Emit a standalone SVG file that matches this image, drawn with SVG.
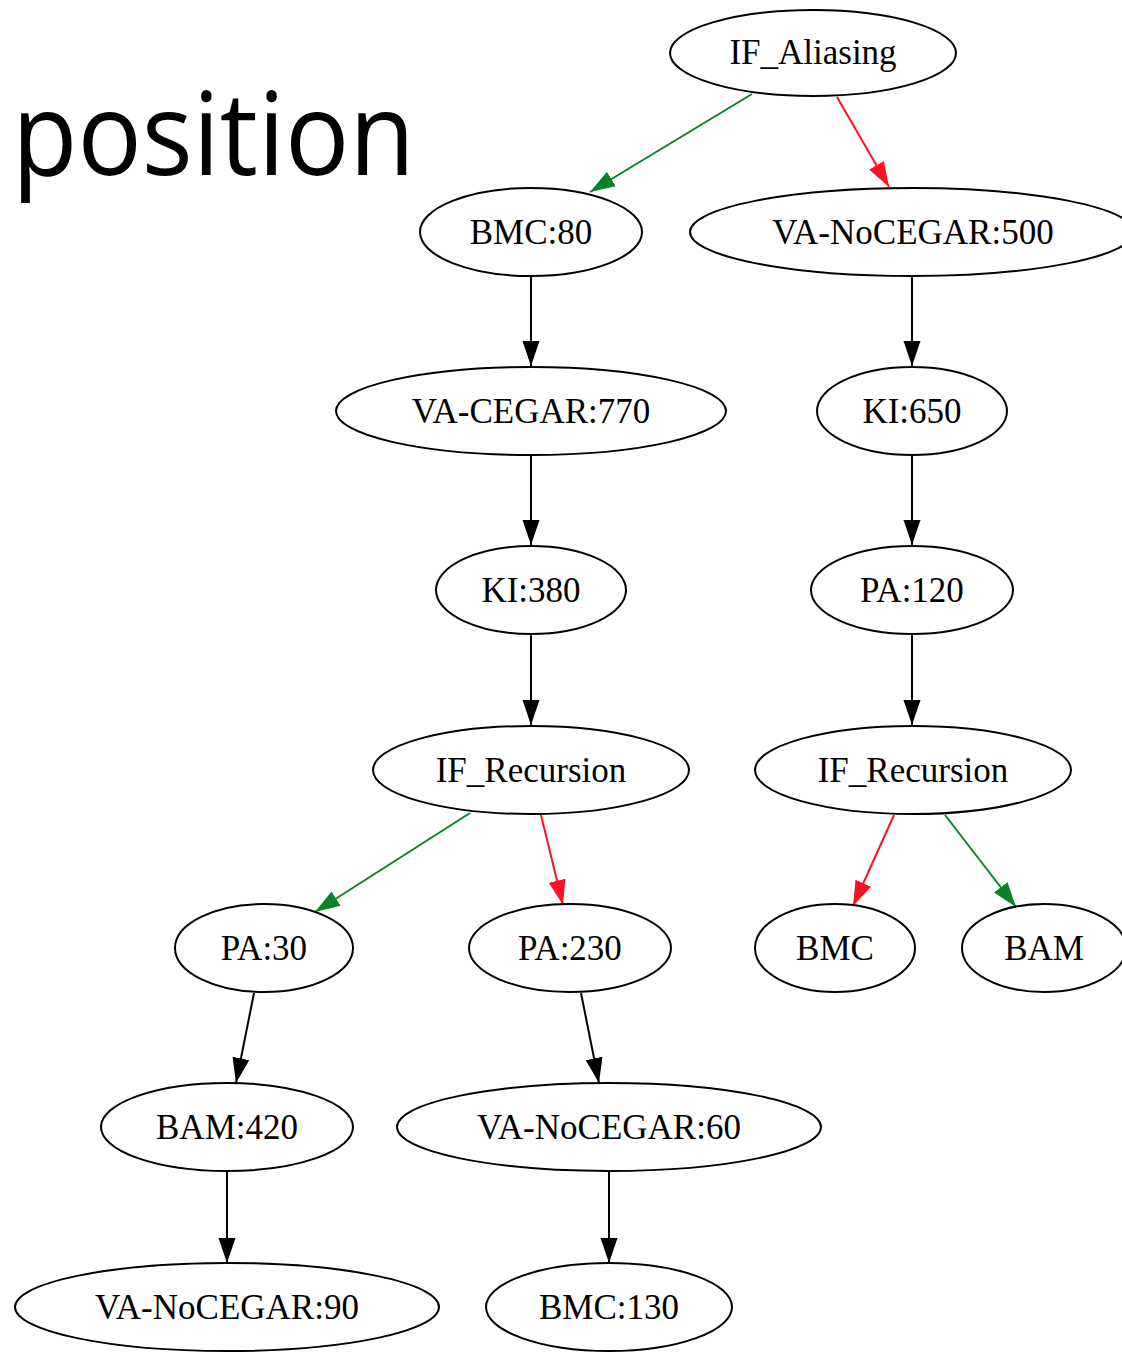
<svg xmlns="http://www.w3.org/2000/svg" width="1122" height="1353" viewBox="0 0 1122 1353">
<style>
.n ellipse{fill:#fff;stroke:#000;stroke-width:2}
.n text{font-family:"Liberation Serif","Times New Roman",serif;font-size:35px;text-anchor:middle;fill:#000}
.e line{stroke-width:2;fill:none}
.k{stroke:#000}
.g{stroke:#0a8228}
.r{stroke:#ff1020}
</style>
<defs>
<marker id="ak" markerUnits="userSpaceOnUse" markerWidth="26" markerHeight="18" refX="25" refY="9" orient="auto"><path d="M0,0.5 L25,9 L0,17.5 z" fill="#000"/></marker>
<marker id="ag" markerUnits="userSpaceOnUse" markerWidth="26" markerHeight="18" refX="25" refY="9" orient="auto"><path d="M0,0.5 L25,9 L0,17.5 z" fill="#0a8228"/></marker>
<marker id="ar" markerUnits="userSpaceOnUse" markerWidth="26" markerHeight="18" refX="25" refY="9" orient="auto"><path d="M0,0.5 L25,9 L0,17.5 z" fill="#ff1020"/></marker>
</defs>
<rect width="1122" height="1353" fill="#fff"/>
<text x="12" y="175" font-family="'Open Sans','Noto Sans',sans-serif" font-size="116" textLength="403" lengthAdjust="spacingAndGlyphs" fill="#000">position</text>
<g id="edges" class="e">
<line class="g" x1="752" y1="94" x2="590" y2="192" marker-end="url(#ag)"/>
<line class="r" x1="837" y1="97" x2="889" y2="187" marker-end="url(#ar)"/>
<line class="k" x1="531" y1="277" x2="531" y2="366" marker-end="url(#ak)"/>
<line class="k" x1="912" y1="277" x2="912" y2="366" marker-end="url(#ak)"/>
<line class="k" x1="531" y1="455" x2="531" y2="545" marker-end="url(#ak)"/>
<line class="k" x1="912" y1="455" x2="912" y2="545" marker-end="url(#ak)"/>
<line class="k" x1="531" y1="634" x2="531" y2="725" marker-end="url(#ak)"/>
<line class="k" x1="912" y1="634" x2="912" y2="725" marker-end="url(#ak)"/>
<line class="g" x1="470" y1="813" x2="315" y2="912" marker-end="url(#ag)"/>
<line class="r" x1="541" y1="815" x2="563" y2="905" marker-end="url(#ar)"/>
<line class="r" x1="894" y1="815" x2="853" y2="906" marker-end="url(#ar)"/>
<line class="g" x1="945" y1="815" x2="1016" y2="907" marker-end="url(#ag)"/>
<line class="k" x1="254" y1="993" x2="236" y2="1083" marker-end="url(#ak)"/>
<line class="k" x1="581" y1="993" x2="599" y2="1083" marker-end="url(#ak)"/>
<line class="k" x1="227" y1="1172" x2="227" y2="1263" marker-end="url(#ak)"/>
<line class="k" x1="609" y1="1172" x2="609" y2="1263" marker-end="url(#ak)"/>
</g>
<g id="n_if_aliasing" class="n"><ellipse cx="813" cy="53" rx="143" ry="43"/><text x="813" y="64">IF_Aliasing</text></g>
<g id="n_bmc80" class="n"><ellipse cx="531" cy="232" rx="111" ry="44"/><text x="531" y="244">BMC:80</text></g>
<g id="n_vanocegar500" class="n"><ellipse cx="912" cy="232" rx="222" ry="44"/><text x="913" y="244">VA-NoCEGAR:500</text></g>
<g id="n_vacegar770" class="n"><ellipse cx="531" cy="411" rx="195" ry="44"/><text x="531" y="423">VA-CEGAR:770</text></g>
<g id="n_ki650" class="n"><ellipse cx="912" cy="411" rx="95" ry="44"/><text x="912" y="423">KI:650</text></g>
<g id="n_ki380" class="n"><ellipse cx="531" cy="590" rx="95" ry="44"/><text x="531" y="602">KI:380</text></g>
<g id="n_pa120" class="n"><ellipse cx="912" cy="590" rx="101" ry="44"/><text x="912" y="602">PA:120</text></g>
<g id="n_ifrec_l" class="n"><ellipse cx="531" cy="770" rx="158" ry="44"/><text x="531" y="782">IF_Recursion</text></g>
<g id="n_ifrec_r" class="n"><ellipse cx="913" cy="770" rx="158" ry="44"/><text x="913" y="782">IF_Recursion</text></g>
<g id="n_pa30" class="n"><ellipse cx="264" cy="948" rx="89" ry="44"/><text x="264" y="960">PA:30</text></g>
<g id="n_pa230" class="n"><ellipse cx="570" cy="948" rx="101" ry="44"/><text x="570" y="960">PA:230</text></g>
<g id="n_bmc" class="n"><ellipse cx="835" cy="948" rx="80" ry="44"/><text x="835" y="960">BMC</text></g>
<g id="n_bam" class="n"><ellipse cx="1044" cy="948" rx="82" ry="44"/><text x="1044" y="960">BAM</text></g>
<g id="n_bam420" class="n"><ellipse cx="227" cy="1127" rx="126" ry="44"/><text x="227" y="1139">BAM:420</text></g>
<g id="n_vanocegar60" class="n"><ellipse cx="609" cy="1127" rx="212" ry="44"/><text x="609" y="1139">VA-NoCEGAR:60</text></g>
<g id="n_vanocegar90" class="n"><ellipse cx="227" cy="1307" rx="212" ry="44"/><text x="227" y="1319">VA-NoCEGAR:90</text></g>
<g id="n_bmc130" class="n"><ellipse cx="609" cy="1307" rx="123" ry="44"/><text x="609" y="1319">BMC:130</text></g>
</svg>
